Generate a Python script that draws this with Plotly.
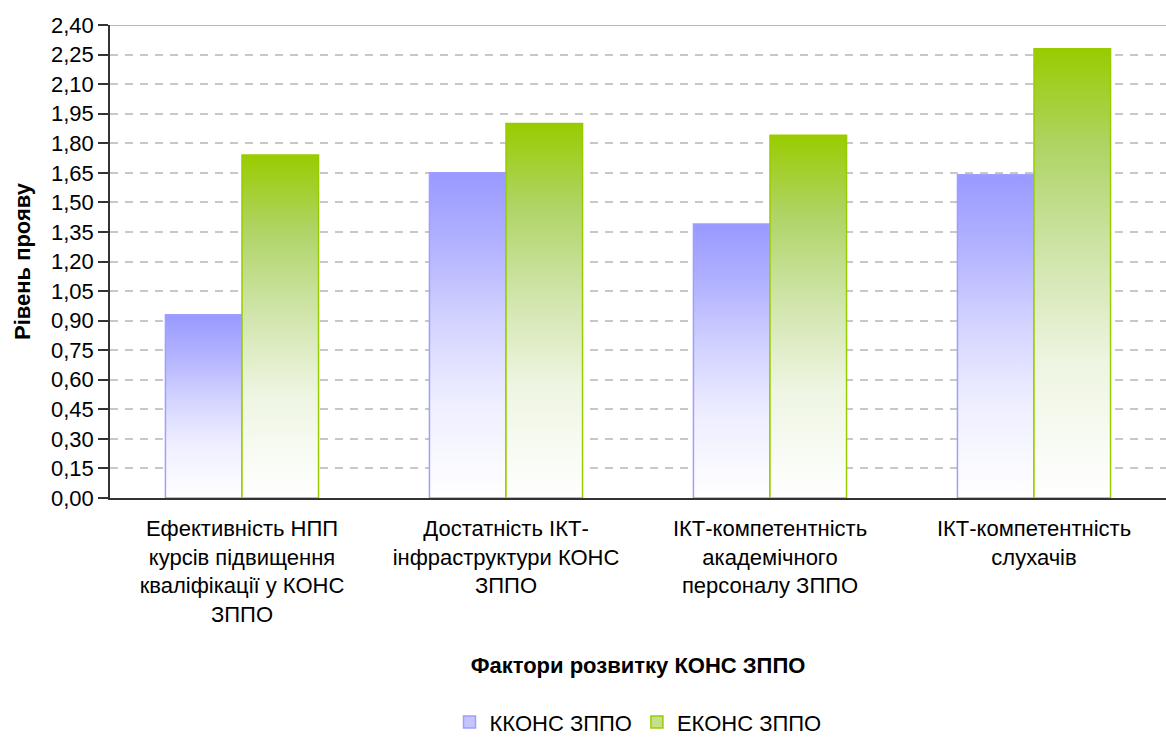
import plotly.graph_objects as go

categories = [
    "Ефективність НПП<br>курсів підвищення<br>кваліфікації у КОНС<br>ЗППО",
    "Достатність ІКТ-<br>інфраструктури КОНС<br>ЗППО",
    "ІКТ-компетентність<br>академічного<br>персоналу ЗППО",
    "ІКТ-компетентність<br>слухачів",
]
kkons = [0.93, 1.65, 1.39, 1.64]
ekons = [1.74, 1.90, 1.84, 2.28]
series_names = ["ККОНС ЗППО", "ЕКОНС ЗППО"]
x_title = "Фактори розвитку КОНС ЗППО"
y_title = "Рівень прояву"

FONT = "Liberation Sans, Arial, sans-serif"
FS = 22
BAR_W = 0.29

blue_scale = [[0, "#ffffff"], [0.3, "#eeeeff"], [0.55, "#d2d2ff"], [0.78, "#b2b2ff"], [1, "#9999ff"]]
green_scale = [[0, "#ffffff"], [0.3, "#eef5e2"], [0.55, "#cfe4a8"], [0.78, "#afd466"], [1, "#99cc00"]]

series = [
    (series_names[0], kkons, -BAR_W, "#9f9fff", blue_scale, "#c4c4ff"),
    (series_names[1], ekons, 0.0, "#99cc00", green_scale, "#c6e08a"),
]

fig = go.Figure()
for name, vals, offset, lc, cs, swatch in series:
    for i, v in enumerate(vals):
        x0 = i + offset
        x1 = x0 + BAR_W
        fig.add_trace(go.Scatter(
            x=[x0, x0, x1, x1, x0], y=[0, v, v, 0, 0],
            mode="lines", fill="toself",
            fillgradient=dict(type="vertical", colorscale=cs),
            line=dict(color=lc, width=1.5),
            name=name, legendgroup=name, showlegend=False,
            hoverinfo="text", text=f"{name}: {v:.2f}".replace(".", ","),
        ))
    # legend swatch entry
    fig.add_trace(go.Bar(
        x=[None], y=[None], name=name, legendgroup=name, showlegend=True,
        marker=dict(color=swatch, line=dict(color=lc, width=1.5)),
    ))

fig.update_layout(
    width=1166, height=740,
    margin=dict(l=110, r=0, t=25, b=242),
    paper_bgcolor="white", plot_bgcolor="white",
    separators=", ",
    font=dict(family=FONT, size=FS, color="#000000"),
    showlegend=True,
    legend=dict(orientation="h", xref="paper", x=0.5, xanchor="center",
                yref="container", y=0.024, yanchor="middle",
                font=dict(size=FS), tracegroupgap=0, itemwidth=30),
    xaxis=dict(
        range=[-0.5, len(categories) - 0.5],
        tickvals=list(range(len(categories))), ticktext=categories,
        ticks="", showgrid=False, zeroline=False, automargin=False,
        showline=True, linecolor="#333333", linewidth=1.5,
        tickfont=dict(size=FS), ticklabelstandoff=10,
        title=dict(text=f"<b>{x_title}</b>", font=dict(size=FS), standoff=32),
    ),
    xaxis2=dict(
        overlaying="x", side="bottom",
        range=[-0.5, len(categories) - 0.5],
        tickvals=[i - 0.5 for i in range(len(categories) + 1)],
        ticks="outside", ticklen=8, tickcolor="#333333", tickwidth=1.5,
        showticklabels=False, showgrid=False, zeroline=False, showline=False,
    ),
    yaxis=dict(
        range=[0, 2.4], dtick=0.15, tick0=0, tickformat=".2f",
        ticks="outside", ticklen=10, tickcolor="#333333", tickwidth=1.5,
        showline=True, linecolor="#333333", linewidth=1.5, automargin=False,
        showgrid=True, gridcolor="#c8c8c8", gridwidth=1.5, griddash="8px,7px",
        zeroline=False, tickfont=dict(size=FS),
        title=dict(text=f"<b>{y_title}</b>", font=dict(size=FS), standoff=14),
    ),
    shapes=[dict(type="line", xref="paper", yref="y", x0=0, x1=1, y0=2.4, y1=2.4,
                 line=dict(color="#a0a0a0", width=1.5), layer="below")],
)

fig.write_html("out.html")
